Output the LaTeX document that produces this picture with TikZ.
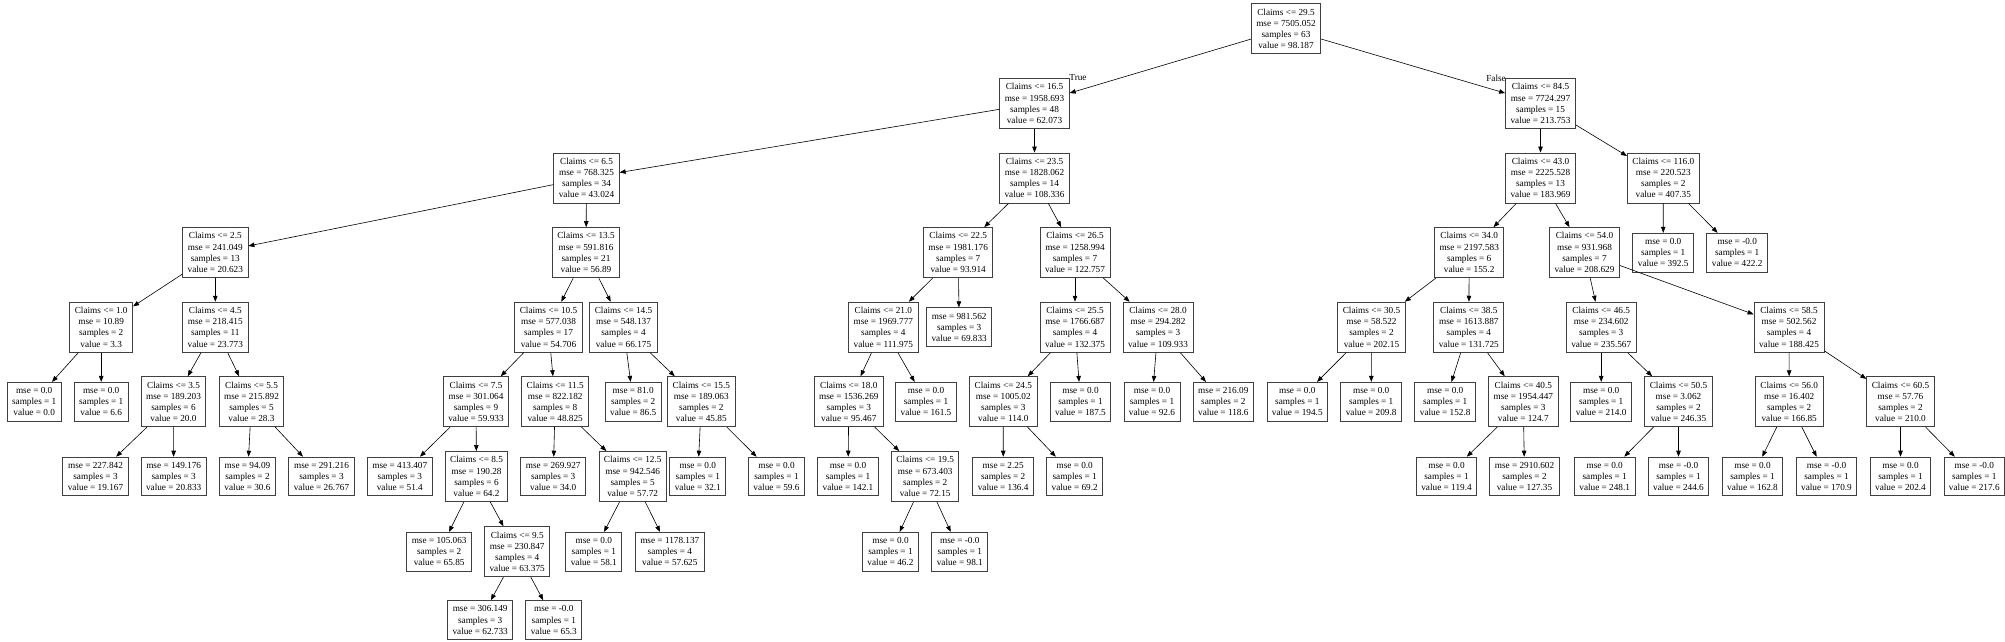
\documentclass[tikz,border=0pt]{standalone}
\usepackage{fontspec}
\setmainfont{Liberation Serif}
\usetikzlibrary{arrows.meta}
\newcommand\dtfont{\fontsize{9.25}{11.2}\selectfont}
\newcommand\DTin[7]{\node[nd] (#1) at (#2,#3) {Claims <= #4\\mse = #5\\samples = #6\\value = #7};}
\newcommand\DTlf[6]{\node[lf] (#1) at (#2,#3) {mse = #4\\samples = #5\\value = #6};}
\begin{document}
\begin{tikzpicture}[x=1pt,y=-1pt,
  nd/.style={draw=black!75, line width=0.9pt, fill=white, align=center, inner xsep=5pt, inner ysep=0pt, minimum height=50pt, font=\dtfont},
  lf/.style={nd, minimum height=38.7pt},
  edge/.style={-{Triangle[length=6pt,width=4.5pt]}, line width=0.6pt, black},
  lbl/.style={inner sep=0pt, font=\dtfont}]
\useasboundingbox (0,0) rectangle (2005,642);
% level 0
\DTin{root}{1286}{28.7}{29.5}{7505.052}{63}{98.187}
% level 1
\DTin{n1}{1034.5}{103.5}{16.5}{1958.693}{48}{62.073}
\DTin{n26}{1540.5}{103.5}{84.5}{7724.297}{15}{213.753}
% level 2
\DTin{n2}{586.5}{178}{6.5}{768.325}{34}{43.024}
\DTin{n17}{1034.5}{178}{23.5}{1828.062}{14}{108.336}
\DTin{n27}{1540.5}{178}{43.0}{2225.528}{13}{183.969}
\DTin{n38}{1663.3}{178}{116.0}{220.523}{2}{407.35}
% level 3
\DTin{n3}{215.3}{252.6}{2.5}{241.049}{13}{20.623}
\DTin{n8}{586}{252.6}{13.5}{591.816}{21}{56.89}
\DTin{n18}{958.2}{252.6}{22.5}{1981.176}{7}{93.914}
\DTin{n22}{1075}{252.6}{26.5}{1258.994}{7}{122.757}
\DTin{n28}{1469.2}{252.6}{34.0}{2197.583}{6}{155.2}
\DTin{n32}{1584.5}{252.6}{54.0}{931.968}{7}{208.629}
\DTlf{l392}{1663.2}{252.6}{0.0}{1}{392.5}
\DTlf{l422}{1737.2}{252.6}{-0.0}{1}{422.2}
% level 4
\DTin{n4}{101.2}{327.2}{1.0}{10.89}{2}{3.3}
\DTin{n5}{215.3}{327.2}{4.5}{218.415}{11}{23.773}
\DTin{n9}{548.5}{327.2}{10.5}{577.038}{17}{54.706}
\DTin{n15}{623.5}{327.2}{14.5}{548.137}{4}{66.175}
\DTin{n19}{883.3}{327.2}{21.0}{1969.777}{4}{111.975}
\DTlf{l981}{959.2}{327.2}{981.562}{3}{69.833}
\DTin{n23}{1075}{327.2}{25.5}{1766.687}{4}{132.375}
\DTin{n25}{1158}{327.2}{28.0}{294.282}{3}{109.933}
\DTin{n29}{1371.5}{327.2}{30.5}{58.522}{2}{202.15}
\DTin{n30}{1468.8}{327.2}{38.5}{1613.887}{4}{131.725}
\DTin{n33}{1601.2}{327.2}{46.5}{234.602}{3}{235.567}
\DTin{n35}{1789}{327.2}{58.5}{502.562}{4}{188.425}
% level 5
\DTlf{la}{34.2}{401.7}{0.0}{1}{0.0}
\DTlf{lb}{101.2}{401.7}{0.0}{1}{6.6}
\DTin{n6}{173.5}{401.7}{3.5}{189.203}{6}{20.0}
\DTin{n7}{251.5}{401.7}{5.5}{215.892}{5}{28.3}
\DTin{n10}{476}{401.7}{7.5}{301.064}{9}{59.933}
\DTin{n13}{555.2}{401.7}{11.5}{822.182}{8}{48.825}
\DTlf{l81}{633.2}{401.7}{81.0}{2}{86.5}
\DTin{n16}{701.3}{401.7}{15.5}{189.063}{2}{45.85}
\DTin{n20}{848.8}{401.7}{18.0}{1536.269}{3}{95.467}
\DTlf{l1615}{926}{401.7}{0.0}{1}{161.5}
\DTin{n24}{1003.3}{401.7}{24.5}{1005.02}{3}{114.0}
\DTlf{l1875}{1080.5}{401.7}{0.0}{1}{187.5}
\DTlf{l926}{1152}{401.7}{0.0}{1}{92.6}
\DTlf{l2160}{1223.3}{401.7}{216.09}{2}{118.6}
\DTlf{l1945}{1297.3}{401.7}{0.0}{1}{194.5}
\DTlf{l2098}{1371.2}{401.7}{0.0}{1}{209.8}
\DTlf{l1528}{1445.2}{401.7}{0.0}{1}{152.8}
\DTin{n31}{1523.3}{401.7}{40.5}{1954.447}{3}{124.7}
\DTlf{l2140}{1601.2}{401.7}{0.0}{1}{214.0}
\DTin{n34}{1678.5}{401.7}{50.5}{3.062}{2}{246.35}
\DTin{n36}{1789.2}{401.7}{56.0}{16.402}{2}{166.85}
\DTin{n37}{1900.5}{401.7}{60.5}{57.76}{2}{210.0}
% level 6
\DTlf{l227}{95.5}{476.5}{227.842}{3}{19.167}
\DTlf{l149}{173.7}{476.5}{149.176}{3}{20.833}
\DTlf{l94}{247.5}{476.5}{94.09}{2}{30.6}
\DTlf{l291}{321.5}{476.5}{291.216}{3}{26.767}
\DTlf{l413}{399.8}{476.5}{413.407}{3}{51.4}
\DTin{n11}{476.5}{476.5}{8.5}{190.28}{6}{64.2}
\DTlf{l269}{553.2}{476.5}{269.927}{3}{34.0}
\DTin{n14}{632.7}{476.5}{12.5}{942.546}{5}{57.72}
\DTlf{l321}{697.8}{476.5}{0.0}{1}{32.1}
\DTlf{l596}{776.5}{476.5}{0.0}{1}{59.6}
\DTlf{l1421}{848}{476.5}{0.0}{1}{142.1}
\DTin{n21}{925.2}{476.5}{19.5}{673.403}{2}{72.15}
\DTlf{l225}{1003.2}{476.5}{2.25}{2}{136.4}
\DTlf{l692}{1074.7}{476.5}{0.0}{1}{69.2}
\DTlf{l1194}{1446.5}{476.5}{0.0}{1}{119.4}
\DTlf{l2910}{1524.5}{476.5}{2910.602}{2}{127.35}
\DTlf{l2481}{1604.7}{476.5}{0.0}{1}{248.1}
\DTlf{l2446}{1678.5}{476.5}{-0.0}{1}{244.6}
\DTlf{l1628}{1752.5}{476.5}{0.0}{1}{162.8}
\DTlf{l1709}{1826.5}{476.5}{-0.0}{1}{170.9}
\DTlf{l2024}{1900.5}{476.5}{0.0}{1}{202.4}
\DTlf{l2176}{1974.3}{476.5}{-0.0}{1}{217.6}
% level 7
\DTlf{l105}{439.2}{551.7}{105.063}{2}{65.85}
\DTin{n12}{517.2}{551.7}{9.5}{230.847}{4}{63.375}
\DTlf{l581}{593.8}{551.7}{0.0}{1}{58.1}
\DTlf{l1178}{669.8}{551.7}{1178.137}{4}{57.625}
\DTlf{l462}{890.5}{551.7}{0.0}{1}{46.2}
\DTlf{l981b}{959.8}{551.7}{-0.0}{1}{98.1}
% level 8
\DTlf{l306}{480.2}{620}{306.149}{3}{62.733}
\DTlf{l653}{553.8}{620}{-0.0}{1}{65.3}
% labels
\node[lbl] (tlab) at (1078,78) {True};
\node[lbl] (flab) at (1496,78) {False};
% edges
\foreach \p/\c in {root/n1, root/n26, n1/n2, n1/n17, n2/n3, n2/n8, n3/n4, n3/n5,
  n4/la, n4/lb, n5/n6, n5/n7, n6/l227, n6/l149, n7/l94, n7/l291, n8/n9, n8/n15,
  n9/n10, n9/n13, n10/l413, n10/n11, n11/l105, n11/n12, n12/l306, n12/l653,
  n13/l269, n13/n14, n14/l581, n14/l1178, n15/l81, n15/n16, n16/l321, n16/l596,
  n17/n18, n17/n22, n18/n19, n18/l981, n19/n20, n19/l1615, n20/l1421, n20/n21,
  n21/l462, n21/l981b, n22/n23, n22/n25, n23/n24, n23/l1875, n24/l225, n24/l692,
  n25/l926, n25/l2160, n26/n27, n26/n38, n27/n28, n27/n32, n28/n29, n28/n30,
  n29/l1945, n29/l2098, n30/l1528, n30/n31, n31/l1194, n31/l2910, n32/n33, n32/n35,
  n33/l2140, n33/n34, n34/l2481, n34/l2446, n35/n36, n35/n37, n36/l1628, n36/l1709,
  n37/l2024, n37/l2176, n38/l392, n38/l422}
  {\draw[edge] (\p) -- (\c);}
\end{tikzpicture}
\end{document}
